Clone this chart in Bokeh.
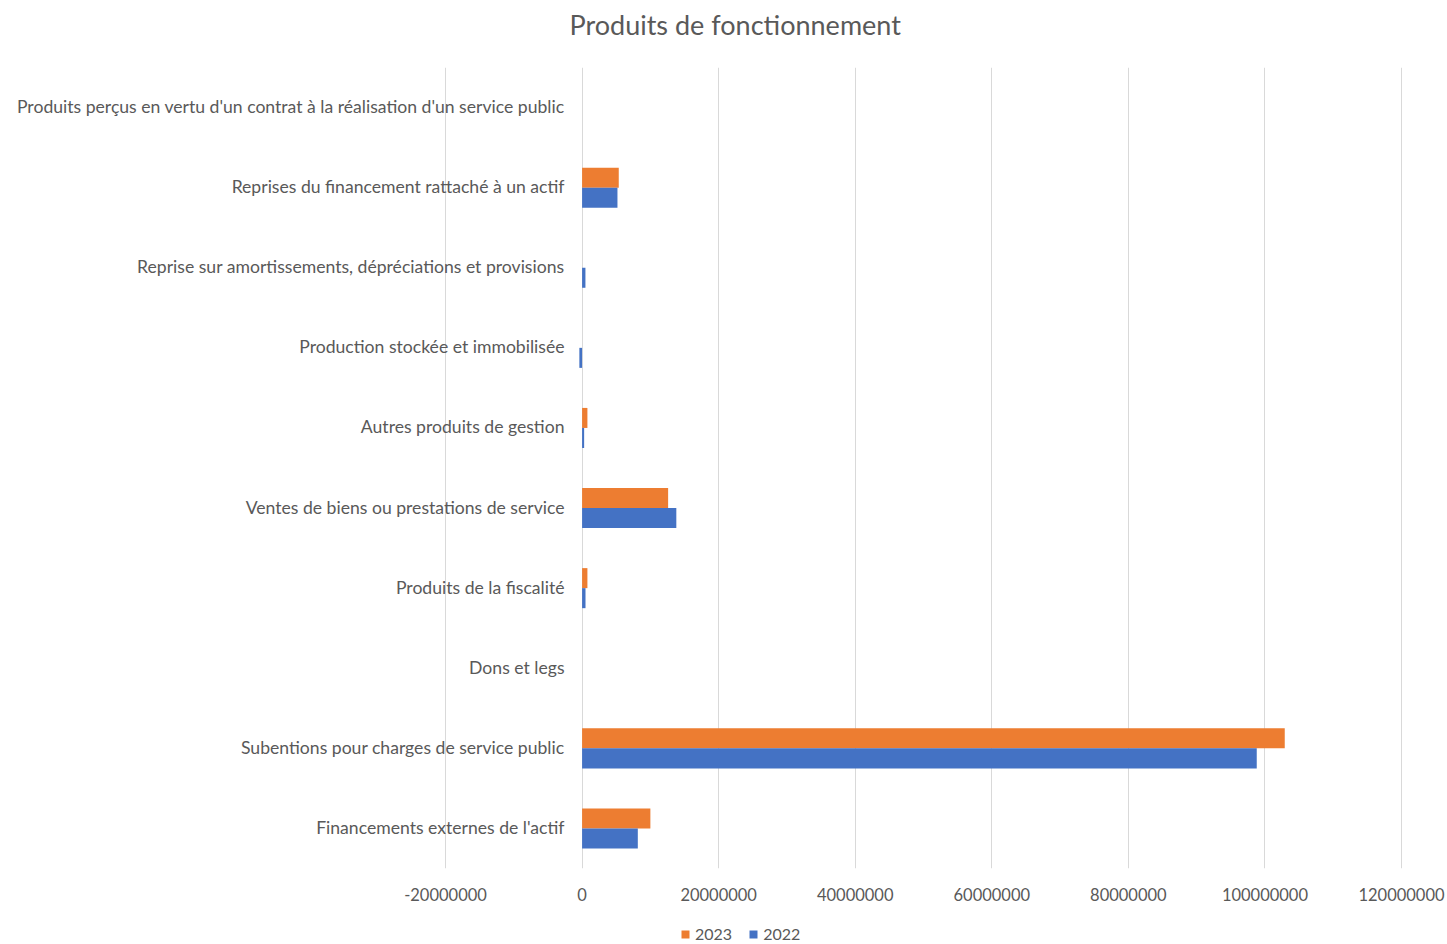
from bokeh.plotting import figure
from bokeh.layouts import column
from bokeh.models import (ColumnDataSource, FactorRange, LabelSet, Label, Legend, LegendItem,
                          FixedTicker, NumeralTickFormatter)
from bokeh.core.properties import value
from bokeh.transform import dodge
from bokeh.embed import file_html
from bokeh.resources import INLINE

categories = [
    "Financements externes de l'actif",
    "Subentions pour charges de service public",
    "Dons et legs",
    "Produits de la fiscalité",
    "Ventes de biens ou prestations de service",
    "Autres produits de gestion",
    "Production stockée et immobilisée",
    "Reprise sur amortissements, dépréciations et provisions",
    "Reprises du financement rattaché à un actif",
    "Produits perçus en vertu d'un contrat à la réalisation d'un service public",
]
values_2023 = [10000000, 102900000, 0, 780000, 12600000, 780000, 0, 0, 5370000, 0]
values_2022 = [8160000, 98800000, 0, 500000, 13800000, 300000, -400000, 490000, 5180000, 0]
x_ticks = [-20000000, 0, 20000000, 40000000, 60000000, 80000000, 100000000, 120000000]
series_names = ["2023", "2022"]
title_text = "Produits de fonctionnement"

FONT = "Lato"
GREY = "#595959"
ORANGE = "#ED7D31"
BLUE = "#4472C4"
W = 1447

# ---- title strip ----
pt = figure(width=W, height=67, x_axis_type=None, y_axis_type=None,
            output_backend="svg", toolbar_location=None, min_border=0)
pt.outline_line_color = None
pt.xgrid.visible = False
pt.ygrid.visible = False
pt.add_layout(Label(x=569, y=43, x_units="screen", y_units="screen", text=title_text,
                    text_align="left", text_baseline="middle", text_font=FONT,
                    text_font_size="27px", text_color=GREY))

# ---- main chart ----
src = ColumnDataSource(dict(cat=categories, v2023=values_2023, v2022=values_2022))

# frame spans the whole width so category labels can sit inside it;
# gridlines are drawn only at the axis ticks (-20M .. 120M)
p = figure(width=W, height=853, y_range=FactorRange(*categories),
           x_range=(-85170000, 120730000),
           output_backend="svg", toolbar_location=None,
           min_border_left=0, min_border_right=41, min_border_top=0, min_border_bottom=52)

p.hbar(y=dodge("cat", 0.125, range=p.y_range), right="v2023", left=0, height=0.25,
       source=src, fill_color=ORANGE, line_color=None)
p.hbar(y=dodge("cat", -0.125, range=p.y_range), right="v2022", left=0, height=0.25,
       source=src, fill_color=BLUE, line_color=None)

p.outline_line_color = None
p.ygrid.grid_line_color = None
p.xgrid.ticker = FixedTicker(ticks=x_ticks)
p.xgrid.grid_line_color = "#d9d9d9"
p.xgrid.grid_line_width = 1
p.xaxis.ticker = FixedTicker(ticks=x_ticks)
p.xaxis.formatter = NumeralTickFormatter(format="0")
p.xaxis.axis_line_color = None
p.xaxis.major_tick_line_color = None
p.xaxis.minor_tick_line_color = None
p.xaxis.major_label_standoff = 13
p.xaxis.major_label_text_font = FONT
p.xaxis.major_label_text_font_size = "16.5px"
p.xaxis.major_label_text_color = GREY
p.yaxis.visible = False

labels = LabelSet(x=564, y="cat", x_units="screen", text="cat", source=src,
                  text_align="right", text_baseline="middle", y_offset=1,
                  text_font=value(FONT), text_font_size=value("17.6px"), text_color=GREY)
p.add_layout(labels)

# ---- legend strip ----
pl = figure(width=W, height=24, x_axis_type=None, y_axis_type=None,
            x_range=(0, 1), y_range=(0, 1),
            output_backend="svg", toolbar_location=None, min_border=0)
pl.outline_line_color = None
pl.xgrid.visible = False
pl.ygrid.visible = False
# proxy glyphs placed outside the strip's visible range: only their legend swatches show
l23 = pl.hbar(y=[-5], left=[-5], right=[-4], height=1, fill_color=ORANGE, line_color=None)
l22 = pl.hbar(y=[-5], left=[-5], right=[-4], height=1, fill_color=BLUE, line_color=None)
legend = Legend(items=[LegendItem(label=series_names[0], renderers=[l23]),
                       LegendItem(label=series_names[1], renderers=[l22])],
                orientation="horizontal", location=(680, 1),
                glyph_width=10, glyph_height=10, label_text_font=FONT,
                label_text_font_size="16px", label_text_color=GREY,
                background_fill_alpha=0, border_line_color=None, spacing=16,
                label_standoff=5, padding=0, margin=0)
pl.add_layout(legend, "center")

layout = column(pt, p, pl, spacing=0)
open("out.html", "w").write(file_html(layout, INLINE))
